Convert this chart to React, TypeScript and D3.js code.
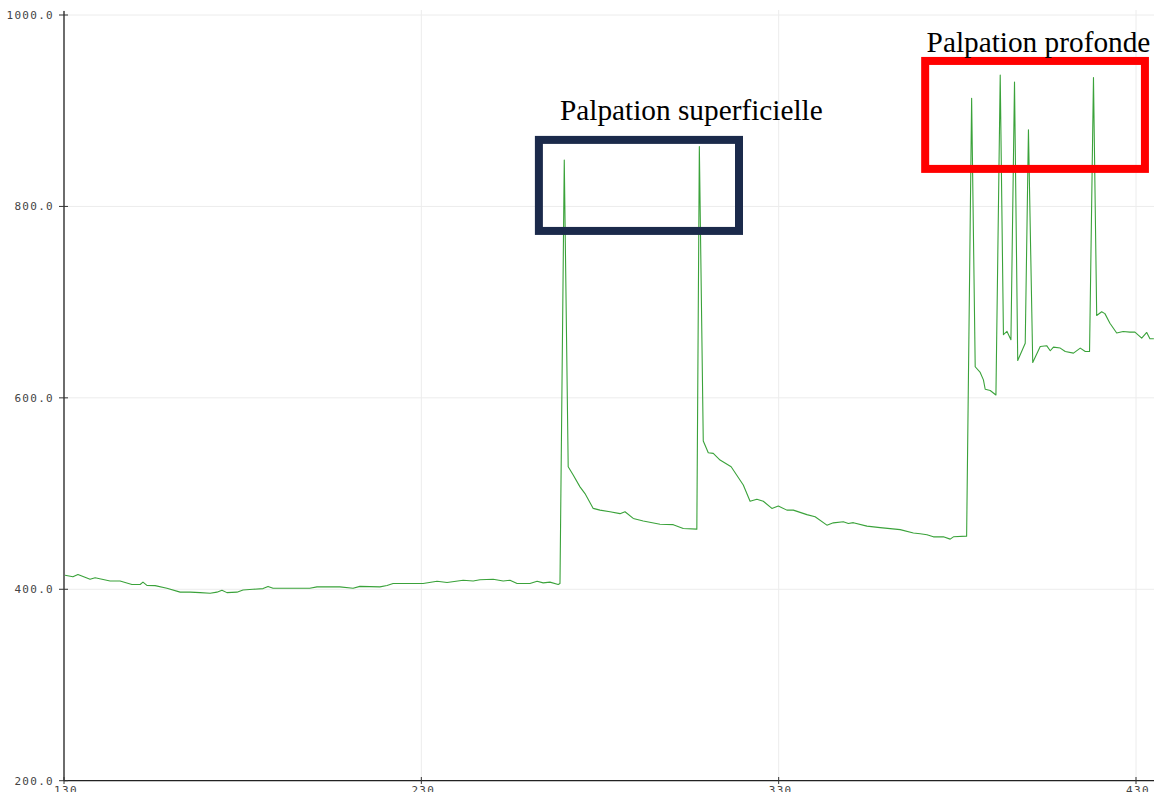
import React from "react";
import * as d3 from "d3";

// Sensor reading over time (sample index on x, raw value on y)
const xValues = [
  130.3, 132.5, 133.9, 137.3, 138.7, 142.9, 145.7, 149, 151.3, 152.1, 153.2, 155.5, 158.8, 162.5,
  165.3, 168.1, 170.9, 172.8, 174.2, 175.6, 178.4, 180.1, 182.9, 185.7, 187.1, 188.5, 198.8, 200.8,
  207.2, 210.9, 212.8, 218.4, 220.4, 222.1, 230.5, 234.4, 237.2, 241.7, 244.5, 246.4, 250.1, 252.9,
  254.8, 256.8, 260.4, 262.4, 264.1, 266, 268.3, 268.8,
  270, 271.1, 272.5, 274.4, 275.8, 278.1, 280, 282.8, 285.6, 287, 289.3, 292.1, 296.8, 300.5, 303.3, 307.1,
  307.8, 308.9, 310.3, 311.7, 313.6, 316.7, 320.1, 322, 323.9, 325.7, 328.1, 329.9, 332.3, 334.1, 337.9,
  340.2, 343.5, 345.3, 348.1, 349.5, 350.9, 354.7, 358.4, 364, 367.7, 369.6, 371.5, 373.3, 376.1, 378,
  378.9, 382.6,
  384, 385, 386.4, 387.3, 387.8, 389.2, 390.8,
  392, 392.9, 393.9, 395,
  396, 396.9, 399,
  399.9, 401.1, 403.2, 405, 406, 406.9, 408.8, 410.2, 412.5, 414.4, 415.8, 417,
  418.1, 419, 420.4, 421.3, 422.7, 424.6, 426.4, 428.3, 429.7, 431.6, 433, 433.9, 435,
];
const yValues = [
  414.7, 413, 415.4, 410.5, 412, 408.7, 408.7, 405, 405, 407.5, 404, 403.8, 401, 397,
  397, 396.5, 395.8, 397, 399, 396.5, 397, 399.3, 400, 400.7, 403, 401, 401, 402.5,
  402.5, 401, 403, 402.5, 404, 406, 406, 408.4, 407, 409.4, 408.7, 410, 410.5, 408.7,
  409.4, 406, 406, 408.4, 406.7, 407.5, 405, 406,
  848.5, 528, 519.4, 507, 500, 484.5, 482.7, 481, 479, 481, 474, 471.3, 468, 467.5, 463.5, 462.8,
  862.5, 555, 542.7, 542, 535, 528, 509, 492, 494, 492, 484.5, 487, 482.7, 482.7, 478,
  475.7, 467, 469.4, 470.5, 468.8, 469.6, 466, 464.4, 462.3, 458.8, 458, 457, 454.8, 454.8, 452.4,
  454.8, 455.5,
  913, 632.5, 626.5, 618.8, 609, 607.7, 603,
  937.3, 666, 669.4, 660.7,
  930, 639, 657,
  880, 637, 653.7, 654.5, 649.2, 653, 652, 648.4, 646.7, 652, 648.4, 648.4,
  934.6, 686, 690, 688, 678, 667.7, 669.4, 668.7, 668.7, 662.4, 668.3, 661.8, 661.8,
];

const yTicks = [200, 400, 600, 800, 1000];
const xTicks = [130, 230, 330, 430];

// Highlighted palpation episodes, in data units
const zoneLabels = ["Palpation superficielle", "Palpation profonde"];
const zoneX0 = [262.9, 371];
const zoneX1 = [318.9, 432.5];
const zoneY0 = [774.4, 839.2];
const zoneY1 = [869.5, 952];
const zoneColors = ["#1b2a4b", "#ff0000"];
const labelX = [268.8, 371.4];
const labelY = [890, 961.5];

const W = 1154;
const H = 792;

export default function App() {
  const x = d3.scaleLinear().domain([130, 430]).range([64, 1136]);
  const y = d3.scaleLinear().domain([200, 1000]).range([780.7, 15]);
  const pts = xValues.map((v, i) => [v, yValues[i]] as [number, number]);
  const line = d3
    .line<[number, number]>()
    .x((d) => x(d[0]))
    .y((d) => y(d[1]));

  const mono = "'DejaVu Sans Mono', monospace";

  return (
    <svg
      width={W}
      height={H}
      style={{ position: "absolute", left: 0, top: 0, background: "#fff" }}
    >
      {/* grid */}
      {yTicks.map((t) => (
        <line key={"gy" + t} x1={64} x2={W} y1={y(t)} y2={y(t)} stroke="#ececec" strokeWidth={1} />
      ))}
      {xTicks.map((t) => (
        <line key={"gx" + t} x1={x(t)} x2={x(t)} y1={10} y2={780.7} stroke="#ececec" strokeWidth={1} />
      ))}

      {/* series */}
      <path d={line(pts) || ""} fill="none" stroke="#3aa23a" strokeWidth={1.1} strokeLinejoin="round" />

      {/* axes */}
      <line x1={64} x2={64} y1={11} y2={781} stroke="#222" strokeWidth={1.3} />
      <line x1={64} x2={W} y1={780.7} y2={780.7} stroke="#222" strokeWidth={1.3} />
      {yTicks.map((t) => (
        <g key={"ty" + t}>
          <line x1={59} x2={68} y1={y(t)} y2={y(t)} stroke="#333" strokeWidth={1} />
          <text
            x={54}
            y={y(t)}
            dy="0.36em"
            textAnchor="end"
            fontFamily={mono}
            fontSize={11}
            letterSpacing={1.3}
            fill="#444"
          >
            {d3.format(".1f")(t)}
          </text>
        </g>
      ))}
      {xTicks.map((t) => (
        <g key={"tx" + t}>
          <line x1={x(t)} x2={x(t)} y1={777} y2={784} stroke="#333" strokeWidth={1} />
          <text
            x={x(t) + 2}
            y={793.5}
            textAnchor="middle"
            fontFamily={mono}
            fontSize={11}
            letterSpacing={1.3}
            fill="#444"
          >
            {t}
          </text>
        </g>
      ))}

      {/* annotation boxes */}
      {zoneLabels.map((lbl, i) => (
        <g key={lbl}>
          <rect
            x={x(zoneX0[i])}
            y={y(zoneY1[i])}
            width={x(zoneX1[i]) - x(zoneX0[i])}
            height={y(zoneY0[i]) - y(zoneY1[i])}
            fill="none"
            stroke={zoneColors[i]}
            strokeWidth={8}
          />
          <text
            x={x(labelX[i])}
            y={y(labelY[i])}
            fontFamily="'Liberation Serif', 'Times New Roman', serif"
            fontSize={29.3}
            fill="#000"
          >
            {lbl}
          </text>
        </g>
      ))}
    </svg>
  );
}
